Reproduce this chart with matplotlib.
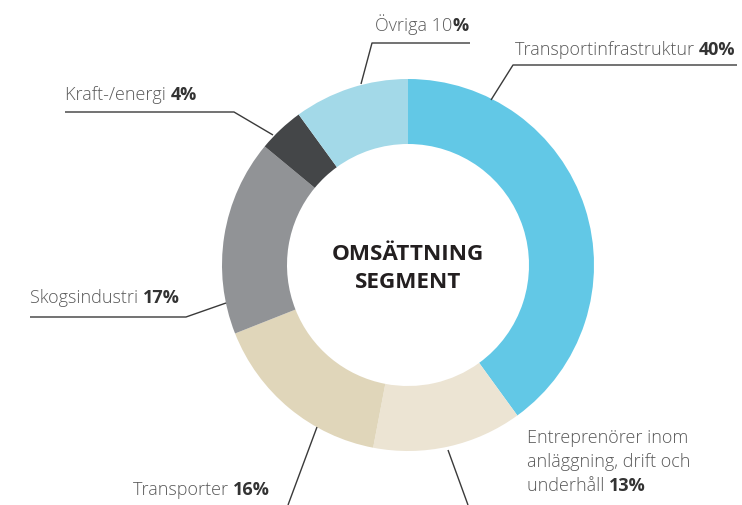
import matplotlib.pyplot as plt

# segment data
segments = ["Transportinfrastruktur", "Entreprenörer", "Transporter",
            "Skogsindustri", "Kraft-/energi", "Övriga"]
shares = [40, 13, 16, 17, 4, 10]
colors = ["#62c8e6", "#ece4d3", "#e0d6ba", "#919396", "#444648", "#a3d9e8"]

W, H = 742, 505
plt.rcParams['font.family'] = ['Open Sans', 'DejaVu Sans']

fig = plt.figure(figsize=(W / 100, H / 100), dpi=100)
ax = fig.add_axes([0, 0, 1, 1])
ax.pie(shares, colors=colors, startangle=90, counterclock=False,
       center=(408, H - 265), radius=186, frame=True,
       wedgeprops=dict(width=65, linewidth=0))
ax.set_xlim(0, W)
ax.set_ylim(0, H)
ax.axis('off')

# centre title
ax.text(408, H - 260, "OMSÄTTNING", ha='center', va='baseline',
        fontsize=16.2, fontweight='bold', color='#231f20')
ax.text(408, H - 288, "SEGMENT", ha='center', va='baseline',
        fontsize=16.2, fontweight='bold', color='#231f20')

# leader lines (pixel coords, y from top)
leaders = [
    [(470, 43), (372, 43), (361, 84)],
    [(737, 65), (513, 65), (491, 100)],
    [(65, 112), (234, 112), (273, 135)],
    [(30, 317), (186, 317), (226, 303)],
    [(288, 505), (317, 427)],
    [(448, 450), (468, 505)],
]
for pts in leaders:
    xs = [p[0] for p in pts]
    ys = [H - p[1] for p in pts]
    ax.plot(xs, ys, color='#3a3a3a', lw=1, solid_capstyle='butt')

fig.canvas.draw()
renderer = fig.canvas.get_renderer()
FS = 13


def put(x, y, regular, bold):
    t = ax.text(x, H - y, regular, ha='left', va='baseline', fontsize=FS,
                fontweight='light', color='#5a5a5a')
    bb = t.get_window_extent(renderer)
    x2 = ax.transData.inverted().transform((bb.x1, 0))[0]
    if bold:
        ax.text(x2, H - y, bold, ha='left', va='baseline', fontsize=FS,
                fontweight='bold', color='#333333')


put(375, 31, "Övriga 10", "%")
put(515, 55, "Transportinfrastruktur ", "40%")
put(65, 100, "Kraft-/energi ", "4%")
put(30, 303, "Skogsindustri ", "17%")
put(133, 495, "Transporter ", "16%")
put(527, 443, "Entreprenörer inom", "")
put(527, 467, "anläggning, drift och", "")
put(527, 491, "underhåll ", "13%")

fig.savefig("out.png", dpi=100)
